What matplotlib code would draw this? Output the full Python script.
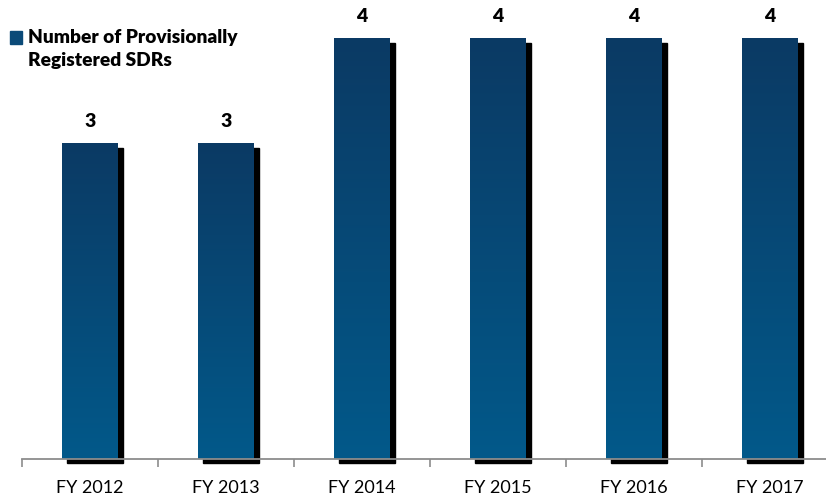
import numpy as np
import matplotlib.pyplot as plt
from matplotlib.colors import LinearSegmentedColormap
from matplotlib.patches import Rectangle

years = ["FY 2012", "FY 2013", "FY 2014", "FY 2015", "FY 2016", "FY 2017"]
sdr_counts = [3, 3, 4, 4, 4, 4]
legend_label = "Number of Provisionally\nRegistered SDRs"

plt.rcParams['font.family'] = ['Lato', 'DejaVu Sans']

W, H = 826, 499
fig = plt.figure(figsize=(W / 100, H / 100), dpi=100)
# axes spans past the right edge so the last category boundary is cut off
ax = fig.add_axes([22 / W, 40 / H, 816 / W, 459 / H])

bar_w = 0.41
ymax = 4.371
ax.set_xlim(-0.5, len(years) - 0.5)
ax.set_ylim(0, ymax)

grad = LinearSegmentedColormap.from_list("bar", ["#02598a", "#0b3a64"])
dx = 5 / 136
dy = 4 / 105

for i, v in enumerate(sdr_counts):
    # drop shadow
    ax.add_patch(Rectangle((i - bar_w / 2 + dx, -dy), bar_w, v, color="black",
                           zorder=1, clip_on=False))
    # vertical gradient fill
    g = np.linspace(0, 1, 256).reshape(-1, 1)
    ax.imshow(g, cmap=grad, origin="lower", aspect="auto", zorder=2,
              extent=[i - bar_w / 2, i + bar_w / 2, 0, v], interpolation="bilinear")
    ax.text(i, v + 0.21, str(v), ha="center", va="center", fontsize=14,
            fontweight="heavy", color="black")

ax.set_xlim(-0.5, len(years) - 0.5)
ax.set_ylim(0, ymax)

for s in ["top", "right", "left"]:
    ax.spines[s].set_visible(False)
ax.spines["bottom"].set_color("#8c8c8c")
ax.spines["bottom"].set_linewidth(1.3)
ax.spines["bottom"].set_zorder(3)
ax.set_yticks([])

ax.set_xticks(np.arange(-0.5, len(years)), minor=False)
ax.set_xticklabels([])
ax.tick_params(axis="x", which="major", length=6, width=1.2, color="#8c8c8c",
               direction="out")
ax.set_xticks(np.arange(len(years)), minor=True)
ax.set_xticklabels(years, minor=True, fontsize=13)
ax.tick_params(axis="x", which="minor", length=0, pad=15)

# legend
fig.patches.append(Rectangle((10 / W, 1 - 44 / H), 12 / W, 13 / H,
                             transform=fig.transFigure, color="#0b4a78"))
fig.text(28 / W, 1 - 29 / H, legend_label, ha="left", va="top", fontsize=13.8,
         fontweight="heavy", linespacing=1.45)

fig.savefig("out.png", dpi=100)
